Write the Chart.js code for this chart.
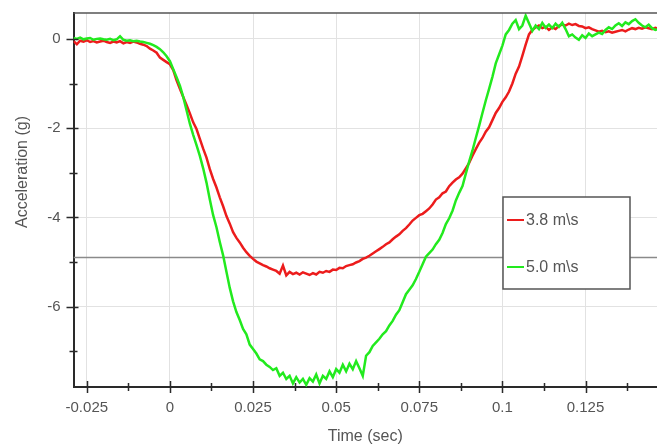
<!DOCTYPE html>
<html>
<head>
<meta charset="utf-8">
<script src="https://cdn.jsdelivr.net/npm/chart.js@4/dist/chart.umd.min.js"></script>
<style>
    html, body { margin: 0; padding: 0; background: #fff; }
    #wrap { width: 657px; height: 446px; }
</style>
</head>
<body>
<div id="wrap"><canvas id="accel-chart" width="657" height="446"></canvas></div>
<script>
// Sample clock: 1 ms steps starting at -29 ms
const timeStart = -0.029;
const timeStep = 0.001;

// 3.8 m/s drop, acceleration in g
const accel38 = [
    -0.05, -0.12, -0.04, -0.06, -0.03, -0.07, -0.05, -0.08, -0.06, -0.04,
    -0.07, -0.09, -0.06, -0.08, -0.05, -0.10, -0.07, -0.09, -0.06, -0.08,
    -0.11, -0.13, -0.16, -0.22, -0.26, -0.31, -0.42, -0.47, -0.52, -0.57,
    -0.70, -0.93, -1.12, -1.30, -1.48, -1.67, -1.87, -2.02, -2.24, -2.46,
    -2.66, -2.92, -3.14, -3.33, -3.55, -3.75, -3.97, -4.14, -4.33, -4.46,
    -4.56, -4.68, -4.78, -4.86, -4.93, -4.99, -5.03, -5.07, -5.10, -5.14,
    -5.17, -5.20, -5.26, -5.08, -5.30, -5.22, -5.27, -5.24, -5.28, -5.23,
    -5.26, -5.29, -5.25, -5.28, -5.22, -5.24, -5.20, -5.22, -5.17, -5.18,
    -5.13, -5.14, -5.09, -5.07, -5.05, -5.01, -4.98, -4.93, -4.90, -4.86,
    -4.81, -4.76, -4.71, -4.66, -4.60, -4.56, -4.49, -4.43, -4.38, -4.30,
    -4.24, -4.16, -4.07, -4.01, -3.95, -3.92, -3.86, -3.80, -3.71, -3.60,
    -3.55, -3.46, -3.42, -3.30, -3.22, -3.15, -3.10, -3.02, -2.90, -2.78,
    -2.62, -2.47, -2.33, -2.22, -2.08, -1.98, -1.82, -1.66, -1.55, -1.41,
    -1.31, -1.18, -1.00, -0.78, -0.62, -0.38, -0.13, 0.10, 0.20, 0.26,
    0.30, 0.24, 0.27, 0.20, 0.26, 0.22, 0.29, 0.32, 0.30, 0.34,
    0.31, 0.33, 0.29, 0.28, 0.24, 0.26, 0.22, 0.19, 0.16, 0.18,
    0.15, 0.17, 0.14, 0.16, 0.18, 0.20, 0.17, 0.21, 0.24, 0.22,
    0.25, 0.23, 0.26, 0.24, 0.22, 0.25, 0.23
];

// 5.0 m/s drop, acceleration in g
const accel50 = [
    0.02, 0.00, 0.03, -0.01, 0.01, 0.02, -0.02, 0.00, 0.01, -0.01,
    -0.02, 0.00, -0.03, -0.01, 0.06, -0.02, -0.04, -0.03, -0.05, -0.04,
    -0.06, -0.07, -0.09, -0.11, -0.14, -0.18, -0.23, -0.30, -0.39, -0.50,
    -0.68, -0.86, -1.05, -1.30, -1.60, -1.90, -2.15, -2.38, -2.62, -2.90,
    -3.22, -3.60, -3.95, -4.22, -4.55, -4.85, -5.22, -5.58, -5.88, -6.12,
    -6.30, -6.50, -6.62, -6.85, -6.95, -7.05, -7.18, -7.22, -7.30, -7.35,
    -7.42, -7.38, -7.55, -7.48, -7.62, -7.55, -7.72, -7.58, -7.70, -7.62,
    -7.75, -7.60, -7.68, -7.52, -7.72, -7.55, -7.62, -7.45, -7.58, -7.40,
    -7.48, -7.30, -7.45, -7.28, -7.40, -7.22, -7.38, -7.55, -7.10, -7.02,
    -6.88, -6.80, -6.72, -6.62, -6.55, -6.42, -6.32, -6.18, -6.08, -5.90,
    -5.72, -5.62, -5.52, -5.38, -5.22, -5.05, -4.88, -4.80, -4.72, -4.60,
    -4.50, -4.35, -4.15, -4.02, -3.85, -3.62, -3.45, -3.30, -3.02, -2.75,
    -2.50, -2.22, -1.95, -1.66, -1.38, -1.12, -0.85, -0.55, -0.35, -0.15,
    0.10, 0.20, 0.34, 0.42, 0.22, 0.30, 0.52, 0.35, 0.18, 0.30,
    0.22, 0.36, 0.25, 0.32, 0.24, 0.34, 0.27, 0.36, 0.22, 0.06,
    0.10, 0.03, -0.02, 0.08, 0.02, 0.12, 0.06, 0.10, 0.14, 0.11,
    0.20, 0.26, 0.22, 0.30, 0.35, 0.29, 0.37, 0.33, 0.40, 0.44,
    0.36, 0.30, 0.26, 0.32, 0.24, 0.20, 0.22
];

// Horizontal reference level (g)
const refLevel = -4.9;

const seriesLabels = ['3.8 m\\s', '5.0 m\\s'];
const xTicks = [-0.025, 0, 0.025, 0.05, 0.075, 0.1, 0.125];
const yTicks = [-6, -4, -2, 0];
const xMinorTicks = [-0.0125, 0.0125, 0.0375, 0.0625, 0.0875, 0.1125, 0.1375];
const yMinorTicks = [-7, -5, -3, -1];

const X_MIN = -0.029, X_MAX = 0.1465;
const Y_MIN = -7.8, Y_MAX = 0.58;

const FONT = '"Liberation Sans", Arial, sans-serif';
const TEXT_COLOR = '#555';
const AXIS_COLOR = '#2a2a2a';

function toPoints(values) {
    return values.map((v, i) => ({ x: timeStart + i * timeStep, y: v }));
}

// Frame, minor ticks, y title and the boxed legend
const decorations = {
    id: 'decorations',
    afterDraw(chart) {
        const ctx = chart.ctx;
        const area = chart.chartArea;
        const xs = chart.scales.x;
        const ys = chart.scales.y;

        ctx.save();
        // top border
        ctx.strokeStyle = '#555';
        ctx.lineWidth = 1.5;
        ctx.beginPath();
        ctx.moveTo(area.left, area.top);
        ctx.lineTo(area.right, area.top);
        ctx.stroke();

        // tick marks
        ctx.strokeStyle = AXIS_COLOR;
        ctx.lineWidth = 1.5;
        ctx.beginPath();
        xTicks.forEach(v => {
            const px = Math.round(xs.getPixelForValue(v)) + 0.5;
            ctx.moveTo(px, area.bottom - 6);
            ctx.lineTo(px, area.bottom + 6);
        });
        xMinorTicks.forEach(v => {
            const px = Math.round(xs.getPixelForValue(v)) + 0.5;
            ctx.moveTo(px, area.bottom - 4);
            ctx.lineTo(px, area.bottom + 4);
        });
        yTicks.forEach(v => {
            const py = Math.round(ys.getPixelForValue(v)) + 0.5;
            ctx.moveTo(area.left - 7, py);
            ctx.lineTo(area.left + 5, py);
        });
        yMinorTicks.forEach(v => {
            const py = Math.round(ys.getPixelForValue(v)) + 0.5;
            ctx.moveTo(area.left - 4, py);
            ctx.lineTo(area.left + 4, py);
        });
        ctx.stroke();

        // y axis title
        ctx.fillStyle = TEXT_COLOR;
        ctx.font = '16px ' + FONT;
        ctx.textAlign = 'center';
        ctx.textBaseline = 'middle';
        ctx.translate(23, 172);
        ctx.rotate(-Math.PI / 2);
        ctx.fillText('Acceleration (g)', 0, 0);
        ctx.restore();

        // legend box
        const box = { left: 503, top: 197, width: 127, height: 92 };
        ctx.save();
        ctx.fillStyle = '#fff';
        ctx.fillRect(box.left, box.top, box.width, box.height);
        ctx.strokeStyle = '#555';
        ctx.lineWidth = 1.5;
        ctx.strokeRect(box.left, box.top, box.width, box.height);
        ctx.font = '16px ' + FONT;
        ctx.textAlign = 'left';
        ctx.textBaseline = 'middle';
        const rows = [220, 267];
        chart.data.datasets.filter(ds => ds.showInLegend).forEach((ds, i) => {
            const y = rows[i];
            ctx.strokeStyle = ds.borderColor;
            ctx.lineWidth = 2;
            ctx.beginPath();
            ctx.moveTo(507, y);
            ctx.lineTo(524, y);
            ctx.stroke();
            ctx.fillStyle = TEXT_COLOR;
            ctx.fillText(ds.label, 526, y + 1);
        });
        ctx.restore();
    }
};

const chart = new Chart(document.getElementById('accel-chart'), {
    type: 'line',
    data: {
        datasets: [
            {
                label: 'reference',
                data: [{ x: X_MIN, y: refLevel }, { x: X_MAX, y: refLevel }],
                borderColor: '#8a8a8a',
                borderWidth: 1.5,
                pointRadius: 0,
                order: 3
            },
            {
                label: seriesLabels[0],
                data: toPoints(accel38),
                borderColor: '#ec1c1c',
                borderWidth: 2.5,
                pointRadius: 0,
                tension: 0,
                showInLegend: true,
                order: 2
            },
            {
                label: seriesLabels[1],
                data: toPoints(accel50),
                borderColor: '#22ea1e',
                borderWidth: 2.5,
                pointRadius: 0,
                tension: 0,
                showInLegend: true,
                order: 1
            }
        ]
    },
    options: {
        responsive: false,
        animation: false,
        devicePixelRatio: 1,
        layout: { padding: { top: 13, right: 0, left: 0, bottom: 0 } },
        plugins: {
            legend: { display: false },
            tooltip: { enabled: false }
        },
        scales: {
            x: {
                type: 'linear',
                min: X_MIN,
                max: X_MAX,
                afterBuildTicks: scale => { scale.ticks = xTicks.map(v => ({ value: v })); },
                afterFit: scale => {
                    scale.height = 59;
                    scale.paddingLeft = 0;
                    scale.paddingRight = 0;
                },
                ticks: {
                    color: TEXT_COLOR,
                    font: { family: FONT, size: 15 },
                    padding: 12,
                    maxRotation: 0,
                    autoSkip: false,
                    callback: v => String(v)
                },
                grid: { color: '#e2e2e2', lineWidth: 1, drawTicks: false },
                border: { display: true, color: AXIS_COLOR, width: 2 },
                title: {
                    display: true,
                    text: 'Time (sec)',
                    color: TEXT_COLOR,
                    font: { family: FONT, size: 16 },
                    padding: { top: 4, bottom: 0 }
                }
            },
            y: {
                type: 'linear',
                min: Y_MIN,
                max: Y_MAX,
                afterBuildTicks: scale => { scale.ticks = yTicks.map(v => ({ value: v })); },
                afterFit: scale => {
                    scale.width = 73.5;
                    scale.paddingTop = 0;
                    scale.paddingBottom = 0;
                },
                ticks: {
                    color: TEXT_COLOR,
                    font: { family: FONT, size: 15 },
                    padding: 13,
                    autoSkip: false,
                    callback: v => String(v)
                },
                grid: { color: '#e2e2e2', lineWidth: 1, drawTicks: false },
                border: { display: true, color: AXIS_COLOR, width: 2 }
            }
        }
    },
    plugins: [decorations]
});
</script>
</body>
</html>
